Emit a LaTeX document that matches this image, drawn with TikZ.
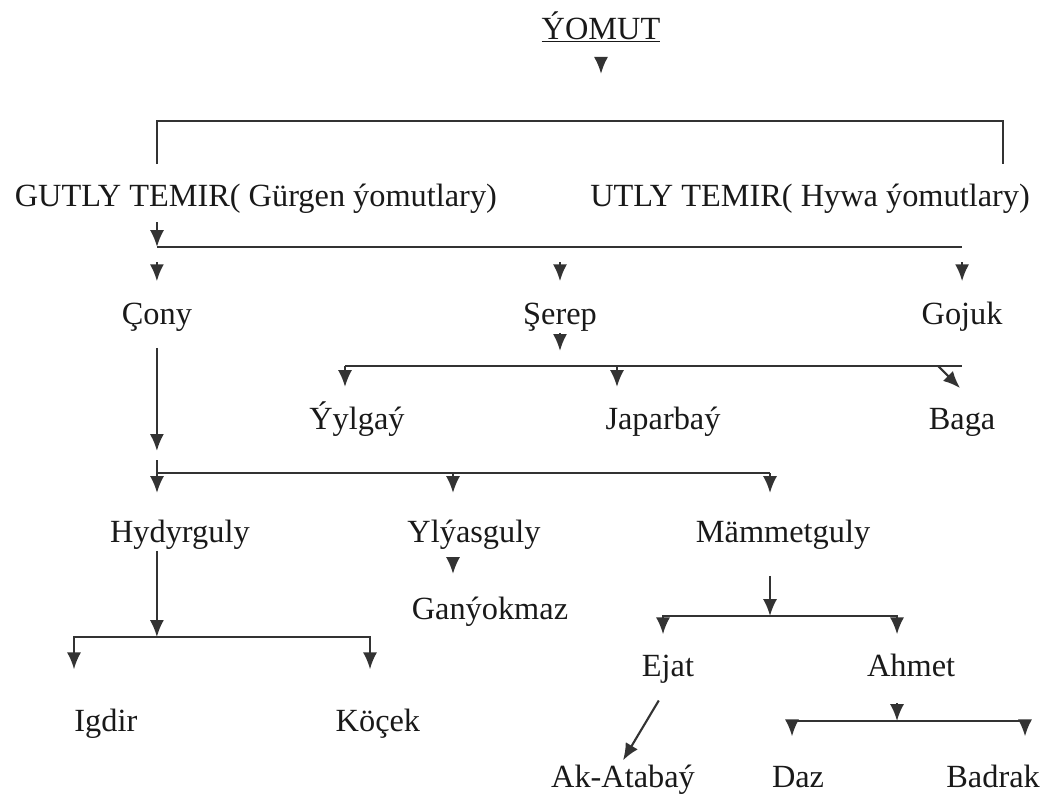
\documentclass[tikz,border=0pt]{standalone}
\usepackage{fontspec}
\setmainfont{Liberation Serif}
\usetikzlibrary{positioning, arrows.meta}

\begin{document}
\begin{tikzpicture}
[x=0.025cm, y=0.025cm, on grid,
                    >={Latex[length=12pt,width=10pt]},
                    every node/.style={font=\fontsize{23}{27}\selectfont, text=black!90,
                    inner sep=2pt, text height=17pt, text depth=4pt},
                    line/.style={draw=black!80, line width=1.5pt},
                    arr/.style={line, ->}]
\useasboundingbox (0,0) rectangle (1043,-796);

\node (yomut) at (601,-30) {\underline{ÝOMUT}};
\node (gutly) [below left=4.175cm and 8.625cm of yomut] {GUTLY TEMIR( Gürgen ýomutlary)};
\node (utly) [right=13.85cm of gutly] {UTLY TEMIR( Hywa ýomutlary)};
\node (cony) [below left=2.95cm and 2.475cm of gutly] {Çony};
\node (serep) [right=10.075cm of cony] {Şerep};
\node (gojuk) [right=10.05cm of serep] {Gojuk};
\node (ylgay) [below left=2.625cm and 5.075cm of serep] {Ýylgaý};
\node (japar) [right=7.65cm of ylgay] {Japarbaý};
\node (baga) [right=7.475cm of japar] {Baga};
\node (hydyr) [below right=5.45cm and 0.575cm of cony] {Hydyrguly};
\node (ylyas) [right=7.35cm of hydyr] {Ylýasguly};
\node (mammet) [right=7.725cm of ylyas] {Mämmetguly};
\node (ganyok) [below right=1.925cm and 0.4cm of ylyas] {Ganýokmaz};
\node (igdir) [below left=4.725cm and 1.85cm of hydyr] {Igdir};
\node (kocek) [right=6.8cm of igdir] {Köçek};
\node (ejat) [below left=3.35cm and 2.875cm of mammet] {Ejat};
\node (ahmet) [right=6.075cm of ejat] {Ahmet};
\node (akatabay) [below left=2.775cm and 1.125cm of ejat] {Ak-Atabaý};
\node (daz) [right=4.375cm of akatabay] {Daz};
\node (badrak) [right=4.875cm of daz] {Badrak};

% bars
\coordinate (top-l) at (157,-121);
\coordinate (top-r) at (1003,-121);
\coordinate (g-l) at (157,-247);
\coordinate (g-r) at (962,-247);
\coordinate (s-l) at (345,-366);
\coordinate (s-m) at (617,-366);
\coordinate (s-d) at (938,-366);
\coordinate (s-r) at (962,-366);
\coordinate (c-l) at (157,-473);
\coordinate (c-m) at (453,-473);
\coordinate (c-r) at (770,-473);
\coordinate (h-l) at (74,-637);
\coordinate (h-r) at (370,-637);
\coordinate (m-l) at (663,-616);
\coordinate (m-r) at (897,-616);
\coordinate (a-l) at (792,-721);
\coordinate (a-r) at (1025,-721);

\draw[arr] ([yshift=-0.25cm]yomut.south) -- ++(0,-16);
\draw[line, shorten <=0.375cm, shorten >=0.375cm]
	(top-l |- gutly.north) -- (top-l) -- (top-r) -- (top-r |- gutly.north);

\draw[arr] (g-l) ++(0,25) -- (g-l);
\draw[line] (g-l) -- (g-r);
\draw[arr] (cony.north) ++(0,35) -- ++(0,-19);
\draw[arr] (serep.north) ++(0,35) -- ++(0,-19);
\draw[arr] (gojuk.north) ++(0,35) -- ++(0,-19);

\draw[arr] (serep.south) -- ++(0,-18);
\draw[line] (s-l) -- (s-r);
\draw[arr] (s-l) -- ++(0,-21);
\draw[arr] (s-m) -- ++(0,-21);
\draw[arr] (s-d) -- ++(22,-22);

\draw[arr] (cony.south) ++(0,-15) -- ++(0,-103);
\draw[line] (c-l) ++(0,13) -- (c-l) -- (c-r);
\draw[arr] (c-l) -- ++(0,-20);
\draw[arr] (c-m) -- ++(0,-20);
\draw[arr] (c-r) -- ++(0,-20);

\draw[arr] (cony |- hydyr.south) -- (cony |- h-l);
\draw[line, <->, shorten <=0.875cm, shorten >=0.875cm]
	(h-l |- kocek.north) -- (h-l) -- (h-r) -- (h-r |- kocek.north);
\draw[arr] (c-m |- ylyas.south) ++(0,-7) -- ++(0,-16);

\draw[arr] (c-r |- mammet.south) ++(0,-25) -- (c-r |- m-l);
\draw[line, <->, shorten <=0.375cm, shorten >=0.375cm]
	(m-l |- ejat.north) -- (m-l) -- (m-r) -- (m-r |- ejat.north);
\draw[arr, shorten <=0.45cm] (ejat.south) -- (akatabay.north);
\draw[arr] (m-r |- ahmet.south) ++(0,-18) -- (m-r |- a-l);
\draw[line, <->, shorten <=0.6cm, shorten >=0.6cm]
	(a-l |- daz.north) -- (a-l) -- (a-r) -- (a-r |- daz.north);
\end{tikzpicture}
\end{document}
